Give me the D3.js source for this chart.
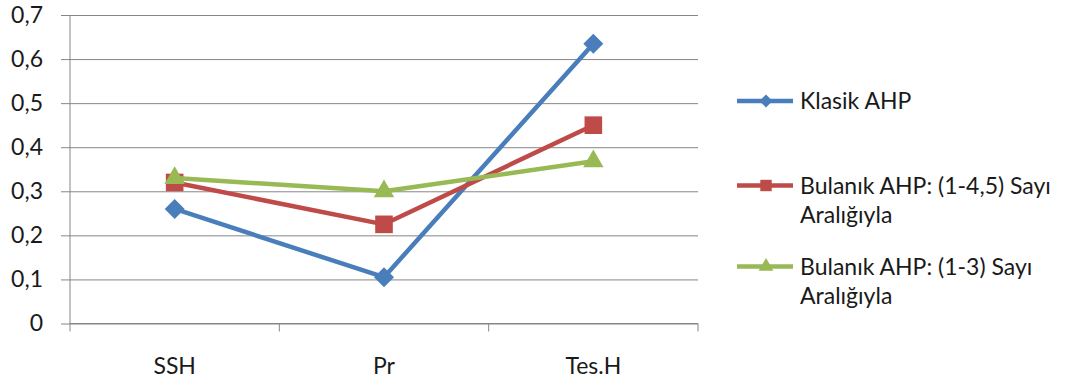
<!DOCTYPE html>
<html>
<head>
<meta charset="utf-8">
<script src="https://cdn.jsdelivr.net/npm/d3@7"></script>
<style>
  html, body { margin: 0; padding: 0; background: #fff; }
  svg { display: block; }
  text { font-family: Lato, "Open Sans", sans-serif; fill: #1a1a1a; }
</style>
</head>
<body>
<svg id="chart" width="1068" height="385"></svg>
<script>
// Criteria weights by method
const categories = ["SSH", "Pr", "Tes.H"];
const klasik = [0.26, 0.105, 0.635];
const bulanik45 = [0.32, 0.225, 0.45];
const bulanik3 = [0.33, 0.30, 0.368];
const yTicks = [0, 0.1, 0.2, 0.3, 0.4, 0.5, 0.6, 0.7];
const yTickLabels = ["0", "0,1", "0,2", "0,3", "0,4", "0,5", "0,6", "0,7"];

const series = [
  { name: ["Klasik AHP"], values: klasik, color: "#4a7ebb", marker: "diamond" },
  { name: ["Bulanık AHP: (1-4,5) Sayı", "Aralığıyla"], values: bulanik45, color: "#be4b48", marker: "square" },
  { name: ["Bulanık AHP: (1-3) Sayı", "Aralığıyla"], values: bulanik3, color: "#98b954", marker: "triangle" }
];

// marker shapes: big for the plot, small for the legend
const markerSize = {
  diamond: [200, 85], square: [310, 130], triangle: [180, 95]
};
function markerPath(kind, small) {
  const size = markerSize[kind][small ? 1 : 0];
  const type = kind === "triangle" ? d3.symbolTriangle : d3.symbolSquare;
  return d3.symbol().type(type).size(size)();
}
function markerRotate(kind) { return kind === "diamond" ? " rotate(45)" : ""; }

const svg = d3.select("#chart");
const plot = { left: 70, right: 698, top: 15, bottom: 323.5 };
const fontSize = 23;

const x = d3.scaleBand().domain(categories).range([plot.left, plot.right]);
const y = d3.scaleLinear().domain([0, 0.7]).range([plot.bottom, plot.top]);

// horizontal gridlines with short outer ticks
const yAxis = d3.axisLeft(y).tickValues(yTicks)
  .tickFormat((d, i) => yTickLabels[i])
  .tickSize(-(plot.right - plot.left)).tickSizeOuter(0).tickPadding(27);
const gy = svg.append("g").attr("transform", `translate(${plot.left},0)`).call(yAxis);
gy.select(".domain").attr("stroke", "#868686").attr("d", `M0,${plot.top}V${plot.bottom + 8}`);
gy.selectAll(".tick line").attr("stroke", "#868686").attr("x1", -9);
gy.selectAll(".tick text").attr("font-size", fontSize).attr("fill", "#1a1a1a")
  .attr("font-family", "Lato, 'Open Sans', sans-serif");

// category axis with boundary ticks
const gx = svg.append("g").attr("transform", `translate(0,${plot.bottom})`);
gx.append("line").attr("x1", plot.left).attr("x2", plot.right).attr("stroke", "#868686");
const bounds = categories.map(c => x(c)).concat([plot.right]);
gx.selectAll("line.b").data(bounds.slice(1)).join("line")
  .attr("class", "b").attr("x1", d => d).attr("x2", d => d)
  .attr("y1", 0).attr("y2", 8).attr("stroke", "#868686");
gx.selectAll("text").data(categories).join("text")
  .attr("x", d => x(d) + x.bandwidth() / 2).attr("y", 50)
  .attr("text-anchor", "middle").attr("font-size", fontSize).text(d => d);

const cx = c => x(c) + x.bandwidth() / 2;
const line = d3.line().x((d, i) => cx(categories[i])).y(d => y(d));

series.forEach(s => {
  svg.append("path").datum(s.values).attr("d", line)
    .attr("fill", "none").attr("stroke", s.color).attr("stroke-width", 4.5)
    .attr("stroke-linejoin", "round");
  svg.selectAll(null).data(s.values).join("path")
    .attr("transform", (d, i) => `translate(${cx(categories[i])},${y(d)})${markerRotate(s.marker)}`)
    .attr("d", markerPath(s.marker, false))
    .attr("fill", s.color);
});

// legend
const legendY = [101, 185.5, 266.5];
series.forEach((s, i) => {
  const g = svg.append("g").attr("transform", `translate(0,${legendY[i]})`);
  g.append("line").attr("x1", 737).attr("x2", 793).attr("stroke", s.color).attr("stroke-width", 4.5);
  g.append("path").attr("transform", `translate(766,0)${markerRotate(s.marker)}`)
    .attr("d", markerPath(s.marker, true))
    .attr("fill", s.color);
  s.name.forEach((t, j) => {
    g.append("text").attr("x", 800).attr("y", 8 + j * 29).attr("font-size", fontSize).text(t);
  });
});
</script>
</body>
</html>
